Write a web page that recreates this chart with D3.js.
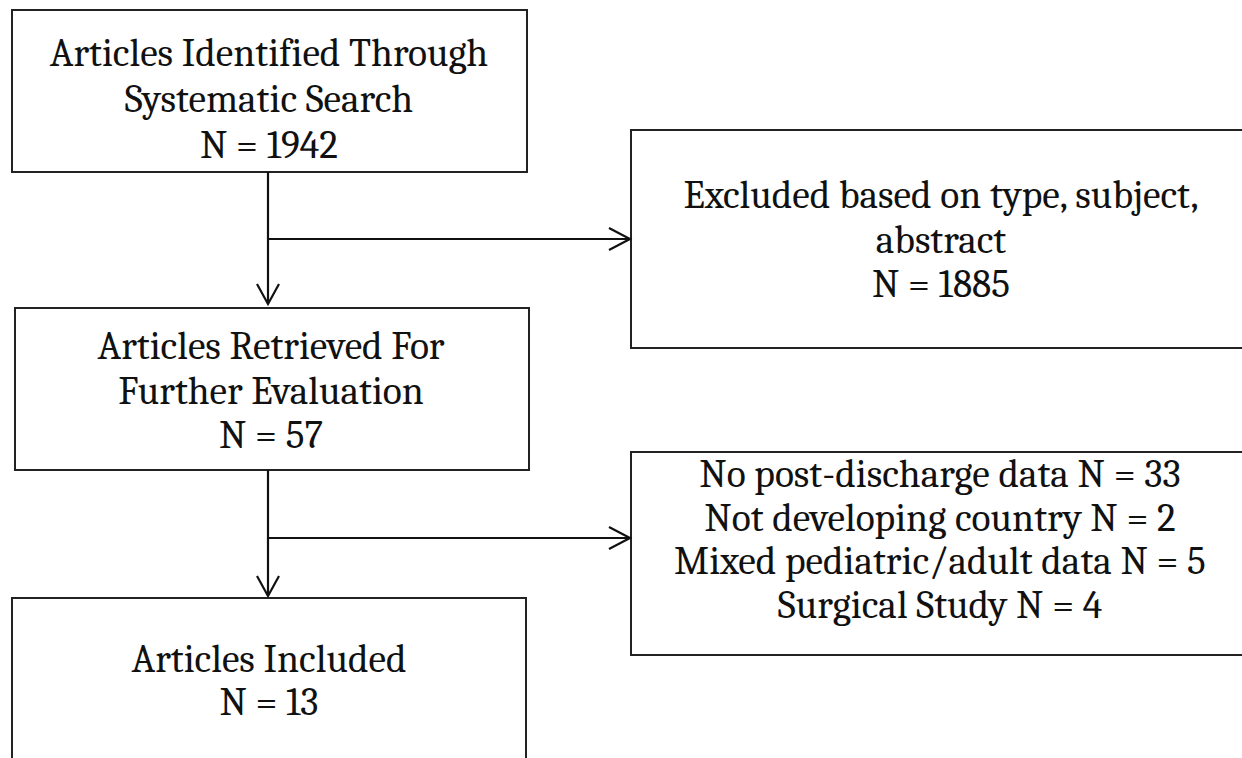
<!DOCTYPE html>
<html>
<head>
<meta charset="utf-8">
<script src="https://cdn.jsdelivr.net/npm/d3@7"></script>
<style>
  html, body { margin: 0; padding: 0; background: #fff; }
  svg text { font-family: Cambria, "Liberation Serif", "DejaVu Serif", serif; fill: #111; }
</style>
</head>
<body>
<svg id="chart" width="1242" height="758"></svg>
<script>
// flow stages (left column) and exclusions (right column)
const stageTitles = [
  ["Articles Identified Through", "Systematic Search"],
  ["Articles Retrieved For", "Further Evaluation"],
  ["Articles Included"]
];
const stageCounts = [1942, 57, 13];

const exclusionTitles = [["Excluded based on type, subject,", "abstract"]];
const exclusionCounts = [1885];

const reasonNames = ["No post-discharge data", "Not developing country", "Mixed pediatric/adult data", "Surgical Study"];
const reasonCounts = [33, 2, 5, 4];

const svg = d3.select("#chart");
const fontSize = 39.5;

// box layout; by = first baseline, lh = line spacing, tx = text centre
const leftBoxes = [
  { x: 12, y: 10, w: 515, h: 162, tx: 269, by: 66, lh: 46 },
  { x: 15, y: 308, w: 514, h: 162, tx: 271, by: 359, lh: 44.5 },
  { x: 12, y: 598, w: 514, h: 200, tx: 269, by: 672, lh: 43 }
];
const rightBoxes = [
  { x: 631, y: 130, w: 700, h: 218, tx: 941, by: 208, lh: 44.5 },
  { x: 631, y: 452, w: 700, h: 203, tx: 940, by: 487, lh: 43.7 }
];
const stemX = 268;
const branchY = [239, 538];

const leftLines = stageTitles.map((t, i) => t.concat([`N = ${stageCounts[i]}`]));
const rightLines = [
  exclusionTitles[0].concat([`N = ${exclusionCounts[0]}`]),
  reasonNames.map((r, i) => `${r} N = ${reasonCounts[i]}`)
];

function drawBox(box, lines) {
  const g = svg.append("g");
  g.append("rect")
    .attr("x", box.x).attr("y", box.y)
    .attr("width", box.w).attr("height", box.h)
    .attr("fill", "none")
    .attr("stroke", "#222")
    .attr("stroke-width", 2);
  g.selectAll("text").data(lines).join("text")
    .attr("x", box.tx)
    .attr("y", (d, i) => box.by + i * box.lh)
    .attr("text-anchor", "middle")
    .attr("font-size", fontSize)
    .text(d => d);
}

leftBoxes.forEach((b, i) => drawBox(b, leftLines[i]));
rightBoxes.forEach((b, i) => drawBox(b, rightLines[i]));

// arrows
const arrows = svg.append("g")
  .attr("stroke", "#111")
  .attr("stroke-width", 2.2)
  .attr("fill", "none");

function vArrow(x, y1, y2) {
  arrows.append("line").attr("x1", x).attr("x2", x).attr("y1", y1).attr("y2", y2);
  arrows.append("path").attr("d", d3.line()([[x - 11, y2 - 20], [x, y2], [x + 11, y2 - 20]]));
}
function hArrow(y, x1, x2) {
  arrows.append("line").attr("x1", x1).attr("x2", x2).attr("y1", y).attr("y2", y);
  arrows.append("path").attr("d", d3.line()([[x2 - 21, y - 11], [x2, y], [x2 - 21, y + 11]]));
}

vArrow(stemX, leftBoxes[0].y + leftBoxes[0].h, leftBoxes[1].y - 4);
hArrow(branchY[0], stemX, rightBoxes[0].x - 1);
vArrow(stemX, leftBoxes[1].y + leftBoxes[1].h, leftBoxes[2].y - 2);
hArrow(branchY[1], stemX, rightBoxes[1].x - 1);
</script>
</body>
</html>
